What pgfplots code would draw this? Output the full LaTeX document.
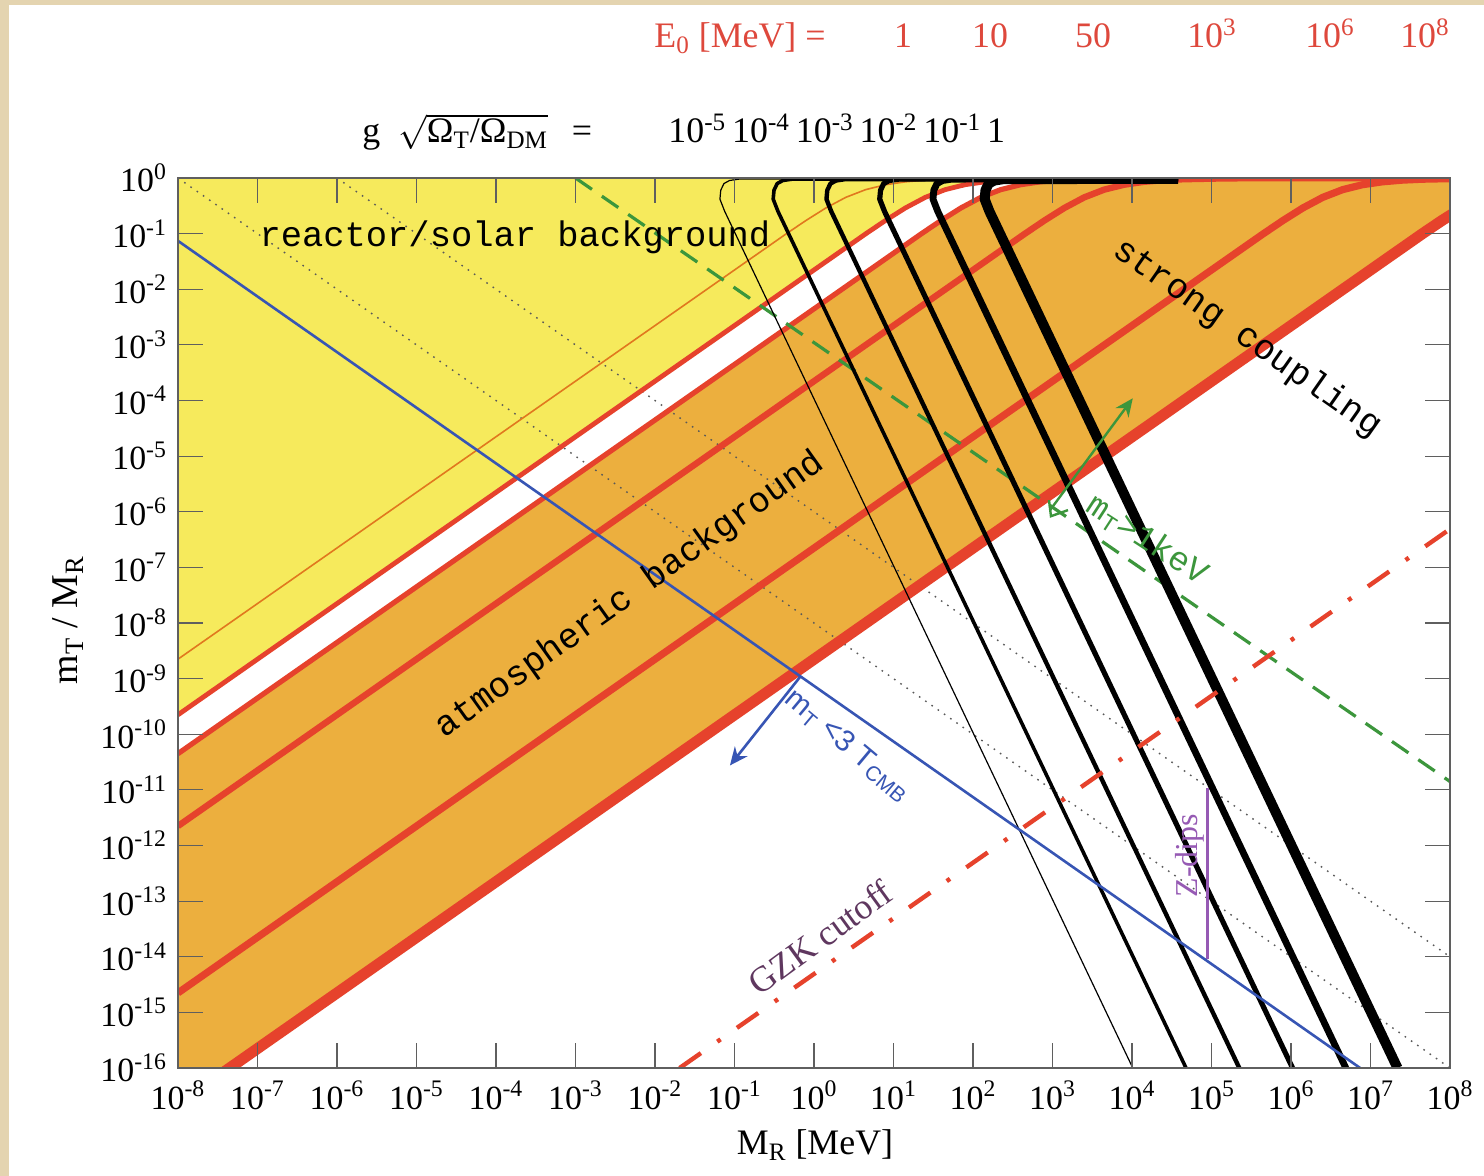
\documentclass[border=0pt]{standalone}
\usepackage{fontspec}
\setmainfont{Liberation Serif}
\newfontfamily\monofont{Liberation Mono}
\newfontfamily\sansfont{Liberation Sans}
\usepackage{pgfplots}
\pgfplotsset{compat=1.18}
\usetikzlibrary{arrows.meta}
\definecolor{beige}{RGB}{228,212,176}
\definecolor{yel}{RGB}{246,234,92}
\definecolor{org}{RGB}{236,175,62}
\definecolor{rd}{RGB}{230,66,44}
\definecolor{rdtxt}{RGB}{222,72,60}
\definecolor{thinorg}{RGB}{225,120,30}
\definecolor{blu}{RGB}{55,85,180}
\definecolor{grn}{RGB}{60,150,60}
\definecolor{gzk}{RGB}{95,55,95}
\definecolor{zdip}{RGB}{150,90,180}
\definecolor{axgray}{RGB}{95,95,95}
\begin{document}
\begin{tikzpicture}
\fill[beige] (-89bp,-54bp) rectangle (653bp,534bp);
\fill[white] (-84.5bp,-54bp) rectangle (653bp,531.5bp);
\begin{axis}[
  at={(0,0)}, anchor=south west, scale only axis,
  width=636bp, height=445bp,
  xmode=log, ymode=log, log basis x=10, log basis y=10,
  xmin=1e-8, xmax=1e8, ymin=1e-16, ymax=1,
  xtick={1e-8,1e-7,1e-6,1e-5,1e-4,1e-3,1e-2,1e-1,1,1e1,1e2,1e3,1e4,1e5,1e6,1e7,1e8},
  xticklabels={10\textsuperscript{-8},10\textsuperscript{-7},10\textsuperscript{-6},10\textsuperscript{-5},10\textsuperscript{-4},10\textsuperscript{-3},10\textsuperscript{-2},10\textsuperscript{-1},10\textsuperscript{0},10\textsuperscript{1},10\textsuperscript{2},10\textsuperscript{3},10\textsuperscript{4},10\textsuperscript{5},10\textsuperscript{6},10\textsuperscript{7},10\textsuperscript{8}},
  ytick={1e-16,1e-15,1e-14,1e-13,1e-12,1e-11,1e-10,1e-9,1e-8,1e-7,1e-6,1e-5,1e-4,1e-3,1e-2,1e-1,1},
  yticklabels={10\textsuperscript{-16},10\textsuperscript{-15},10\textsuperscript{-14},10\textsuperscript{-13},10\textsuperscript{-12},10\textsuperscript{-11},10\textsuperscript{-10},10\textsuperscript{-9},10\textsuperscript{-8},10\textsuperscript{-7},10\textsuperscript{-6},10\textsuperscript{-5},10\textsuperscript{-4},10\textsuperscript{-3},10\textsuperscript{-2},10\textsuperscript{-1},10\textsuperscript{0}},
  xminorticks=false, yminorticks=false,
  tick align=inside, major tick length=12.5bp,
  xtick pos=both, ytick pos=both,
  tick style={axgray, line width=0.6bp},
  axis line style={axgray, line width=0.8bp},
  ticklabel style={font=\fontsize{17}{17}\selectfont},
  xticklabel style={yshift=-3bp},
  yticklabel style={xshift=-2bp},
  axis on top,
]
% yellow region: above E0=10 curve
\addplot[fill=yel, draw=none] coordinates {(1e-8,2.239e-10) (4.467,0.0991) (7.943,0.1726) (14.125,0.2897) (25.12,0.449) (44.67,0.618) (79.43,0.7577) (141.25,0.854) (251.2,0.915) (446.7,0.951) (1412.5,0.984) (4467,0.995) (1e9,0.9995) (1e9,1) (1e-8,1)};
% orange region: between E0=50 and E0=1e8
\addplot[fill=org, draw=none] coordinates {(1e-8,4.478e-11) (22.33,0.0991) (39.72,0.1726) (70.63,0.2897) (125.6,0.449) (223.3,0.618) (397.2,0.7577) (706.3,0.854) (1256,0.915) (2233,0.951) (7063,0.984) (22335,0.995) (1e9,0.9995) (2.512e8,0.449) (1.4125e8,0.2897) (7.943e7,0.1726) (4.467e7,0.0991) (1e-8,2.239e-17)};
% dotted lines
\addplot[gray!70!black, line width=0.7bp, dash pattern=on 0.8bp off 3bp] coordinates {(1e-8,1) (1e8,1e-16)};
\addplot[gray!70!black, line width=0.7bp, dash pattern=on 0.8bp off 3bp] coordinates {(1e-6,1) (1e8,1e-14)};
% E0 curves
\addplot[thinorg, line width=0.8bp] coordinates {(1e-8,2.239e-9) (0.4467,0.0991) (0.7943,0.1726) (1.4125,0.2897) (2.512,0.449) (4.467,0.618) (7.943,0.7577) (14.125,0.854) (25.12,0.915) (44.67,0.951) (141.25,0.984) (446.7,0.995) (1e9,0.9995)};
\addplot[rd, line width=2.4bp] coordinates {(1e-8,2.239e-10) (4.467,0.0991) (7.943,0.1726) (14.125,0.2897) (25.12,0.449) (44.67,0.618) (79.43,0.7577) (141.25,0.854) (251.2,0.915) (446.7,0.951) (1412.5,0.984) (4467,0.995) (1e9,0.9995)};
\addplot[rd, line width=2.6bp] coordinates {(1e-8,4.478e-11) (22.33,0.0991) (39.72,0.1726) (70.63,0.2897) (125.6,0.449) (223.3,0.618) (397.2,0.7577) (706.3,0.854) (1256,0.915) (2233,0.951) (7063,0.984) (22335,0.995) (1e9,0.9995)};
\addplot[rd, line width=3.2bp] coordinates {(1e-8,2.239e-12) (446.7,0.0991) (794.3,0.1726) (1412.5,0.2897) (2512,0.449) (4467,0.618) (7943,0.7577) (14125,0.854) (25120,0.915) (44670,0.951) (141250,0.984) (446700,0.995) (1e9,0.9995)};
\addplot[rd, line width=3.6bp] coordinates {(1e-8,2.239e-15) (4.467e5,0.0991) (7.943e5,0.1726) (1.4125e6,0.2897) (2.512e6,0.449) (4.467e6,0.618) (7.943e6,0.7577) (1.4125e7,0.854) (2.512e7,0.915) (4.467e7,0.951) (1.4125e8,0.984) (1e9,0.9995)};
\addplot[rd, line width=5.5bp] coordinates {(1e-8,2.239e-17) (4.467e7,0.0991) (7.943e7,0.1726) (1.4125e8,0.2897) (2.512e8,0.449)};
% green dashed m_T > 1 keV
\addplot[grn, line width=1.6bp, dash pattern=on 10bp off 6bp] coordinates {(1e-3,1) (1e8,1.413e-11)};
% black g curves
\addplot[black, line width=0.6bp, line join=round] coordinates {(1.023e4,1e-16) (0.07534,0.2512) (0.06559,0.4169) (0.06716,0.6026) (0.07362,0.7943) (0.08650,0.9016) (0.1140,0.955) (3.8e4,0.966)};
\addplot[black, line width=1.8bp, line join=round] coordinates {(4.786e4,1e-16) (0.3523,0.2512) (0.3068,0.4169) (0.3141,0.6026) (0.3443,0.7943) (0.4046,0.9016) (0.5333,0.955) (3.8e4,0.966)};
\addplot[black, line width=2.2bp, line join=round] coordinates {(2.239e5,1e-16) (1.648,0.2512) (1.435,0.4169) (1.470,0.6026) (1.611,0.7943) (1.893,0.9016) (2.495,0.955) (3.8e4,0.966)};
\addplot[black, line width=2.6bp, line join=round] coordinates {(1.047e6,1e-16) (7.709,0.2512) (6.712,0.4169) (6.873,0.6026) (7.534,0.7943) (8.852,0.9016) (11.67,0.955) (3.8e4,0.966)};
\addplot[black, line width=3.4bp, line join=round] coordinates {(4.898e6,1e-16) (36.06,0.2512) (31.40,0.4169) (32.15,0.6026) (35.24,0.7943) (41.41,0.9016) (54.58,0.955) (3.8e4,0.966)};
\addplot[black, line width=5bp, line join=round] coordinates {(2.188e7,1e-16) (161.0,0.2512) (140.2,0.4169) (143.6,0.6026) (157.4,0.7943) (184.9,0.9016) (243.7,0.955) (3.8e4,0.966)};
% GZK cutoff
\addplot[rd, line width=2.2bp, dash pattern=on 13bp off 10bp on 2bp off 10bp] coordinates {(0.0204,1e-16) (1e8,4.9e-7)};
% blue m_T < 3 T_CMB
\addplot[blu, line width=1.3bp] coordinates {(1e-8,0.0741) (1e8,7.41e-18)};
\addplot[blu, line width=1.3bp, -{Stealth[length=9bp,width=8bp]}] coordinates {(0.667,1.07e-9) (0.0877,2.75e-11)};
% green arrow
\addplot[grn, line width=1.2bp, -{Stealth[length=9bp,width=8bp]}] coordinates {(933,1.072e-6) (1.023e4,1.096e-4)};
\addplot[grn, line width=1.2bp] coordinates {(903.6,1.62e-6) (957,8.32e-7) (1567,1.07e-6)};
% Z-dips
\addplot[zdip, line width=1.6bp] coordinates {(8.9e4,1.07e-11) (8.9e4,9.3e-15)};
% texts
\node[font=\monofont\fontsize{17.8}{18}\selectfont] at (axis cs:1.73e-4,0.0869) {reactor/solar background};
\node[font=\monofont\fontsize{17.8}{18}\selectfont, rotate=35.5] at (axis cs:4.85e-3,3.16e-8) {atmospheric background};
\node[font=\monofont\fontsize{17.8}{18}\selectfont, rotate=-35] at (axis cs:2.8e5,1.32e-3) {strong coupling};
\node[font=\monofont\fontsize{17}{18}\selectfont, text=grn, rotate=-33] at (axis cs:1.55e4,3.09e-7) {m\textsubscript{T}>1keV};
\node[font=\sansfont\fontsize{15}{16}\selectfont, text=blu, rotate=-40] at (axis cs:2.68,6.3e-11) {m\textsubscript{T} <3 T\textsubscript{CMB}};
\node[font=\fontsize{18}{18}\selectfont, text=gzk, rotate=36] at (axis cs:1.19,2.24e-14) {GZK cutoff};
\node[font=\fontsize{16}{16}\selectfont, text=zdip, rotate=90] at (axis cs:5.37e4,6.6e-13) {Z-dips};
\end{axis}
% axis labels
\node[font=\fontsize{19}{19}\selectfont, rotate=90] at (-55bp,224bp) {m\textsubscript{T} / M\textsubscript{R}};
\node[font=\fontsize{18}{18}\selectfont] at (318.5bp,-38.5bp) {M\textsubscript{R} [MeV]};
% top labels
\begin{scope}[every node/.style={font=\fontsize{18}{18}\selectfont, text=rdtxt, anchor=base, inner sep=0pt}]
\node at (281bp,510bp) {E\textsubscript{0} [MeV] =};
\node at (362.5bp,510bp) {1};
\node at (406bp,510bp) {10};
\node at (457.5bp,510bp) {50};
\node at (517bp,510bp) {10\textsuperscript{3}};
\node at (576bp,510bp) {10\textsuperscript{6}};
\node at (623.5bp,510bp) {10\textsuperscript{8}};
\end{scope}
\begin{scope}[every node/.style={font=\fontsize{18}{18}\selectfont, inner sep=0pt}]
\node[anchor=base west] at (92bp,462.5bp) {g\hspace{0.5em}$\sqrt{\mbox{Ω\textsubscript{T}/Ω\textsubscript{DM}}}$};
\node[anchor=base] at (202bp,462.5bp) {=};
\node[anchor=base west] at (245bp,462.5bp) {10\textsuperscript{-5}\,10\textsuperscript{-4}\,10\textsuperscript{-3}\,10\textsuperscript{-2}\,10\textsuperscript{-1}\,1};
\end{scope}
\end{tikzpicture}
\end{document}
